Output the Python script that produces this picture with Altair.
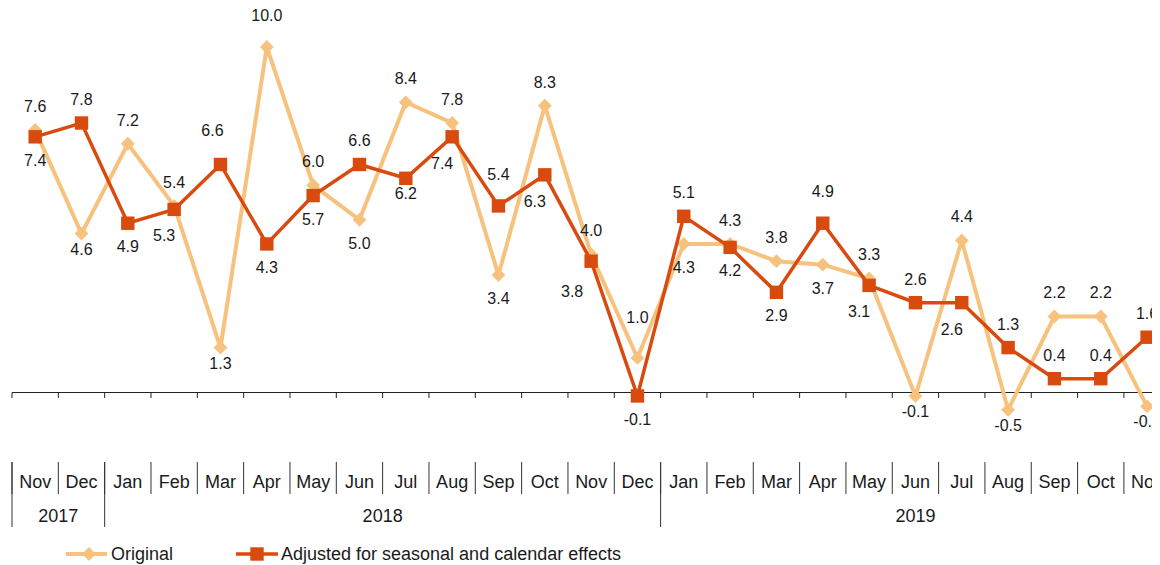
import altair as alt
import pandas as pd

# ---- data ----
months = ["Nov", "Dec", "Jan", "Feb", "Mar", "Apr", "May", "Jun", "Jul", "Aug", "Sep", "Oct",
          "Nov", "Dec", "Jan", "Feb", "Mar", "Apr", "May", "Jun", "Jul", "Aug", "Sep", "Oct", "Nov"]
years = ["2017", "2017"] + ["2018"] * 12 + ["2019"] * 11
original = [7.6, 4.6, 7.2, 5.4, 1.3, 10.0, 6.0, 5.0, 8.4, 7.8, 3.4, 8.3, 4.0, 1.0,
            4.3, 4.3, 3.8, 3.7, 3.3, -0.1, 4.4, -0.5, 2.2, 2.2, -0.4]
adjusted = [7.4, 7.8, 4.9, 5.3, 6.6, 4.3, 5.7, 6.6, 6.2, 7.4, 5.4, 6.3, 3.8, -0.1,
            5.1, 4.2, 2.9, 4.9, 3.1, 2.6, 2.6, 1.3, 0.4, 0.4, 1.6]
# label placement codes (above / below variants)
orig_place = ["a", "bn", "a", "a", "bn", "A", "a", "b", "a", "a", "b", "a", "a", "AA",
              "b", "a", "a", "b", "a", "bn", "a", "bn", "a", "a", "bn"]
adj_place = ["b", "a", "b", "bl", "Al", "b", "b", "a", "bn", "bl", "A", "bl", "bL", "b",
             "a", "b", "b", "A", "bl", "a", "bl", "a", "a", "a", "a"]
series_names = ["Original", "Adjusted for seasonal and calendar effects"]

df = pd.DataFrame({
    "idx": list(range(len(months))),
    "month": months,
    "year": years,
    "original": original,
    "adjusted": adjusted,
    "op": orig_place,
    "ap": adj_place,
})

# ---- style ----
FONT = "Liberation Sans"
C_ORIG = "#F6C27E"
C_ADJ = "#D84A0E"
TXT = "#1a1a1a"
PLACE = {
    "a": (0, -23), "A": (0, -31), "AA": (0, -40), "Al": (-8, -33),
    "b": (0, 24), "bn": (0, 16), "bl": (-10, 27), "bL": (-19, 31),
}

W = 1140
STEP = 46.33
xs = alt.Scale(domain=[-0.5, -0.5 + W / STEP], nice=False, zero=False)
ys = alt.Scale(domain=[0, 10], range=[384.5, 39], nice=False, zero=False)
X = alt.X("idx:Q", scale=xs, axis=None)
XB = alt.X("b:Q", scale=xs, axis=None)

base = alt.Chart(df).transform_calculate(
    b="datum.idx - 0.5", z="0", zt="-0.16",
    ol="replace(format(datum.original, '.1f'), '\u2212', '-')",
    al="replace(format(datum.adjusted, '.1f'), '\u2212', '-')",
)

layers = []

# zero line and ticks
layers.append(base.mark_rule(color="#222", strokeWidth=1).encode(
    y=alt.Y("z:Q", scale=ys, axis=None)))
layers.append(base.mark_rule(color="#222", strokeWidth=1).encode(
    x=XB, y=alt.Y("z:Q", scale=ys, axis=None), y2="zt:Q"))

# series
layers.append(base.mark_line(color=C_ORIG, strokeWidth=4).encode(
    x=X, y=alt.Y("original:Q", scale=ys, axis=None)))
layers.append(base.mark_point(shape="diamond", filled=True, size=190, color=C_ORIG, opacity=1).encode(
    x=X, y=alt.Y("original:Q", scale=ys, axis=None)))
layers.append(base.mark_line(color=C_ADJ, strokeWidth=3.5).encode(
    x=X, y=alt.Y("adjusted:Q", scale=ys, axis=None)))
layers.append(base.mark_point(shape="square", filled=True, size=180, color=C_ADJ, opacity=1).encode(
    x=X, y=alt.Y("adjusted:Q", scale=ys, axis=None)))

# data labels
for code, (dx, dy) in PLACE.items():
    layers.append(base.transform_filter(alt.datum.op == code).mark_text(
        font=FONT, fontSize=16, color=TXT, dx=dx, dy=dy, baseline="middle").encode(
        x=X, y=alt.Y("original:Q", scale=ys, axis=None), text="ol:N"))
    layers.append(base.transform_filter(alt.datum.ap == code).mark_text(
        font=FONT, fontSize=16, color=TXT, dx=dx, dy=dy, baseline="middle").encode(
        x=X, y=alt.Y("adjusted:Q", scale=ys, axis=None), text="al:N"))

# category table
layers.append(base.mark_rule(color="#333", strokeWidth=1).encode(
    x=XB, y=alt.value(454), y2=alt.value(486)))
layers.append(base.transform_filter("datum.idx == 0 || datum.month == 'Jan'").mark_rule(
    color="#333", strokeWidth=1).encode(
    x=XB, y=alt.value(454), y2=alt.value(519)))
layers.append(base.mark_text(font=FONT, fontSize=18, color=TXT, baseline="middle").encode(
    x=X, y=alt.value(475), text="month:N"))
layers.append(alt.Chart(df).transform_aggregate(m="mean(idx)", groupby=["year"]).mark_text(
    font=FONT, fontSize=18, color=TXT, baseline="middle").encode(
    x=alt.X("m:Q", scale=xs, axis=None), y=alt.value(509), text="year:N"))

# legend
leg = alt.Chart(pd.DataFrame({"name": series_names, "k": [0, 1]}))
LY = 546
l0 = leg.transform_filter("datum.k == 0")
l1 = leg.transform_filter("datum.k == 1")
layers.append(l0.mark_rule(color=C_ORIG, strokeWidth=4).encode(
    x=alt.value(54), x2=alt.value(95), y=alt.value(LY)))
layers.append(l0.mark_point(shape="diamond", filled=True, size=190, color=C_ORIG, opacity=1).encode(
    x=alt.value(77), y=alt.value(LY)))
layers.append(l0.mark_text(font=FONT, fontSize=18, color=TXT, align="left", baseline="middle").encode(
    x=alt.value(99), y=alt.value(LY + 1), text="name:N"))
layers.append(l1.mark_rule(color=C_ADJ, strokeWidth=3.5).encode(
    x=alt.value(224), x2=alt.value(266), y=alt.value(LY)))
layers.append(l1.mark_point(shape="square", filled=True, size=180, color=C_ADJ, opacity=1).encode(
    x=alt.value(245), y=alt.value(LY)))
layers.append(l1.mark_text(font=FONT, fontSize=18, color=TXT, align="left", baseline="middle").encode(
    x=alt.value(269), y=alt.value(LY + 1), text="name:N"))

chart = alt.layer(*layers).properties(
    width=W, height=557,
    autosize=alt.AutoSizeParams(type="none"),
    padding={"left": 4, "top": 0, "right": 0, "bottom": 0},
    background="white",
).configure_view(strokeWidth=0)

chart.save("out.html", embed_options={"renderer": "svg", "actions": False})
